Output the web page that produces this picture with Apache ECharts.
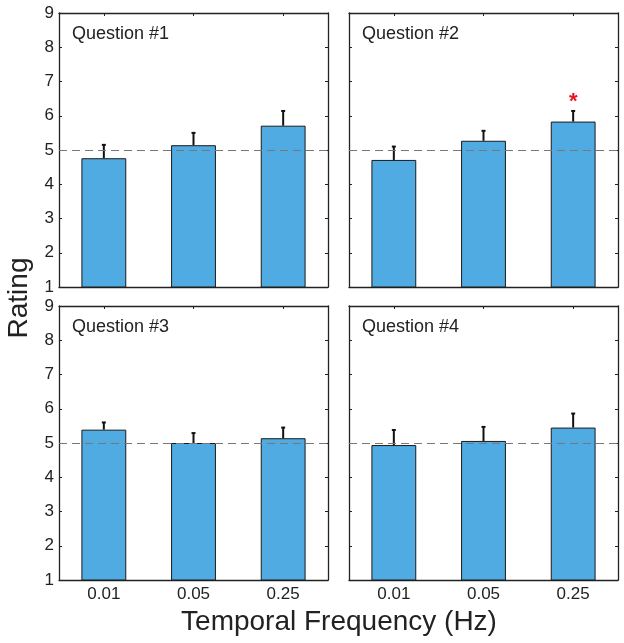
<!DOCTYPE html>
<html><head><meta charset="utf-8">
<script src="https://cdn.jsdelivr.net/npm/echarts@6/dist/echarts.min.js"></script>
<style>html,body{margin:0;padding:0;background:#fff}#c{width:624px;height:643px}</style>
</head><body><div id="c"></div>
<script>
var categories = ['0.01', '0.05', '0.25'];
var panelTitles = ['Question #1', 'Question #2', 'Question #3', 'Question #4'];
var q1 = [4.76, 5.14, 5.71];
var q1ErrTop = [5.15, 5.50, 6.14];
var q2 = [4.71, 5.27, 5.83];
var q2ErrTop = [5.10, 5.56, 6.14];
var q3 = [5.39, 5.00, 5.14];
var q3ErrTop = [5.60, 5.29, 5.45];
var q4 = [4.94, 5.06, 5.45];
var q4ErrTop = [5.38, 5.47, 5.86];
var refLine = 5;
var yTicks = [1, 2, 3, 4, 5, 6, 7, 8, 9];
var star = {panel: 1, cat: 2, y: 6.62};
var xTitle = 'Temporal Frequency (Hz)';
var yTitle = 'Rating';

var values = [q1, q2, q3, q4];
var errTops = [q1ErrTop, q2ErrTop, q3ErrTop, q4ErrTop];
var FONT = 'Liberation Sans, Arial, Helvetica, sans-serif';
var gridPos = [
  {left: 59, top: 13}, {left: 349, top: 13},
  {left: 59, top: 306}, {left: 349, top: 306}
];
var grids = [], xAxes = [], yAxes = [], series = [], titles = [];
for (var i = 0; i < 4; i++) {
  grids.push({left: gridPos[i].left, top: gridPos[i].top, width: 269, height: 274});
  var showX = i >= 2, showY = (i % 2) === 0;
  xAxes.push({
    type: 'category', gridIndex: i, data: categories, position: 'bottom',
    axisLine: {show: true, lineStyle: {color: '#222', width: 1.3}},
    axisTick: {show: true, inside: true, length: 3, alignWithLabel: true, lineStyle: {color: '#222'}},
    axisLabel: {show: showX, fontSize: 17, color: '#222', fontFamily: FONT, margin: 6},
    splitLine: {show: false}
  });
  xAxes.push({
    type: 'category', gridIndex: i, data: categories, position: 'top',
    axisLine: {show: true, lineStyle: {color: '#222', width: 1.3}},
    axisTick: {show: true, inside: true, length: 3, alignWithLabel: true, lineStyle: {color: '#222'}},
    axisLabel: {show: false}, splitLine: {show: false}
  });
  yAxes.push({
    type: 'value', gridIndex: i, min: yTicks[0], max: yTicks[yTicks.length - 1], interval: 1, position: 'left',
    axisLine: {show: true, lineStyle: {color: '#222', width: 1.3}},
    axisTick: {show: true, inside: true, length: 3, lineStyle: {color: '#222'}},
    axisLabel: {show: showY, fontSize: 17, color: '#222', fontFamily: FONT, margin: 5},
    splitLine: {show: false}
  });
  yAxes.push({
    type: 'value', gridIndex: i, min: yTicks[0], max: yTicks[yTicks.length - 1], interval: 1, position: 'right',
    axisLine: {show: true, lineStyle: {color: '#222', width: 1.3}},
    axisTick: {show: true, inside: true, length: 3, lineStyle: {color: '#222'}},
    axisLabel: {show: false}, splitLine: {show: false}
  });
  series.push({
    type: 'bar', xAxisIndex: 2 * i, yAxisIndex: 2 * i, data: values[i], barWidth: '50%',
    itemStyle: {color: '#50ABE2', borderColor: '#1a1a1a', borderWidth: 1},
    silent: true, z: 2,
    markLine: {
      silent: true, symbol: 'none', label: {show: false},
      lineStyle: {color: '#777', type: [8, 5], width: 1},
      data: [{yAxis: refLine}]
    }
  });
  var errData = values[i].map(function (v, k) { return [k, v, errTops[i][k]]; });
  series.push({
    type: 'custom', xAxisIndex: 2 * i, yAxisIndex: 2 * i, data: errData, silent: true, z: 3,
    renderItem: function (params, api) {
      var b = api.coord([api.value(0), api.value(1)]);
      var t = api.coord([api.value(0), api.value(2)]);
      var st = {stroke: '#111', lineWidth: 2};
      return {type: 'group', children: [
        {type: 'line', shape: {x1: b[0], y1: b[1], x2: t[0], y2: t[1]}, style: st},
        {type: 'line', shape: {x1: t[0] - 2, y1: t[1], x2: t[0] + 2, y2: t[1]}, style: st}
      ]};
    }
  });
  titles.push({
    text: panelTitles[i], left: gridPos[i].left + 8, top: gridPos[i].top + 7,
    textStyle: {fontSize: 18, fontWeight: 'normal', color: '#222', fontFamily: FONT}
  });
}
series.push({
  type: 'custom', xAxisIndex: 2 * star.panel, yAxisIndex: 2 * star.panel,
  data: [[star.cat, star.y]], silent: true, z: 4,
  renderItem: function (params, api) {
    var p = api.coord([api.value(0), api.value(1)]);
    return {type: 'text', x: p[0], y: p[1] + 7, style: {
      text: '*', fill: '#e8141e', font: 'bold 22px ' + FONT, align: 'center', verticalAlign: 'middle'
    }};
  }
});

var chart = echarts.init(document.getElementById('c'), null, {renderer: 'canvas'});
chart.setOption({
  animation: false,
  backgroundColor: '#fff',
  title: titles,
  grid: grids, xAxis: xAxes, yAxis: yAxes, series: series,
  graphic: [
    {type: 'text', x: 339, y: 622, style: {text: xTitle, font: '28px ' + FONT, fill: '#222', align: 'center', verticalAlign: 'middle'}},
    {type: 'text', x: 5, y: 298, rotation: Math.PI / 2, style: {text: yTitle, font: '28px ' + FONT, fill: '#222', align: 'center', verticalAlign: 'top'}}
  ]
});
</script></body></html>
